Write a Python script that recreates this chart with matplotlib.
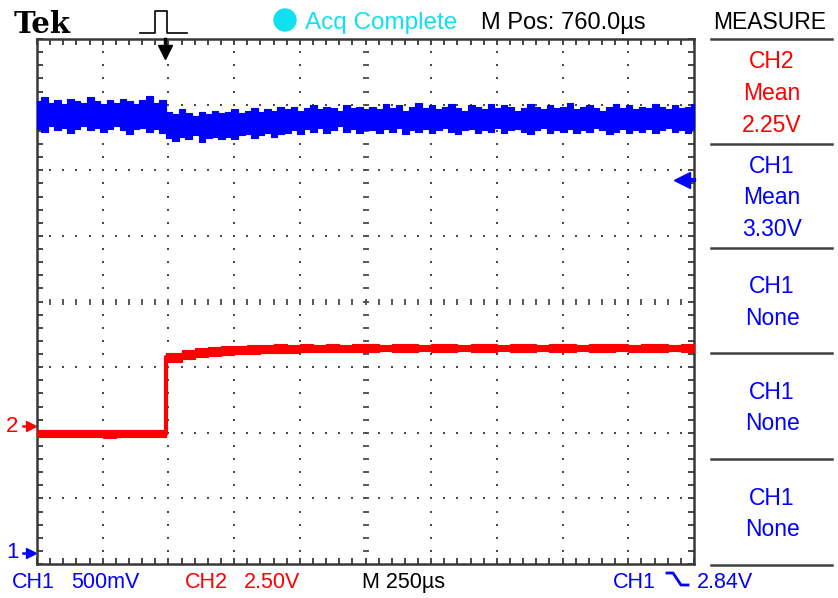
import numpy as np
import matplotlib
matplotlib.use("Agg")
import matplotlib.pyplot as plt
from matplotlib.lines import Line2D
from matplotlib.patches import Ellipse

# ---- scope settings ----
ch1_vdiv = 0.5      # V/div
ch2_vdiv = 2.5
ch1_pos = -3.83     # ground marker position (div)
ch2_pos = -1.90
t_div = 250.0       # us/div
trig_t = 487.0      # us from left edge
trig_level = 2.84   # V on CH1

# ---- CH1 : envelope (top / bottom) every 25 us ----
t1_us = np.arange(-10, 2540, 25)
ch1_top = [3.44, 3.47, 3.43, 3.45, 3.42, 3.46, 3.44, 3.43, 3.47, 3.44,
           3.42, 3.45, 3.43, 3.46, 3.44, 3.42, 3.45, 3.48, 3.43, 3.45,
           # after trigger
           3.36, 3.34, 3.38, 3.35, 3.33, 3.36, 3.34, 3.37, 3.35,
           3.36, 3.38, 3.35, 3.37, 3.39, 3.36, 3.38, 3.37, 3.40,
           3.38, 3.40, 3.37, 3.39, 3.41, 3.38, 3.40, 3.39, 3.37, 3.41, 3.39, 3.40, 3.38,
           3.40, 3.38, 3.42, 3.39, 3.41, 3.37, 3.40, 3.43, 3.39, 3.41,
           3.38, 3.40, 3.42, 3.39, 3.37, 3.41, 3.40, 3.38, 3.42, 3.39,
           3.41, 3.40, 3.37, 3.39, 3.42, 3.40, 3.38, 3.41, 3.39, 3.40,
           3.43, 3.38, 3.40, 3.41, 3.39, 3.37, 3.40, 3.42, 3.39, 3.41,
           3.38, 3.40, 3.39, 3.42, 3.40, 3.38, 3.41, 3.39, 3.40, 3.42, 3.39]
ch1_bot = [3.23, 3.21, 3.25, 3.22, 3.24, 3.20, 3.23, 3.25, 3.22, 3.24,
           3.21, 3.23, 3.25, 3.22, 3.19, 3.23, 3.24, 3.21, 3.23, 3.20,
           # after trigger
           3.16, 3.14, 3.17, 3.15, 3.18, 3.13, 3.16, 3.17, 3.15,
           3.17, 3.15, 3.18, 3.19, 3.16, 3.18, 3.20, 3.17, 3.19,
           3.20, 3.22, 3.19, 3.23, 3.21, 3.24, 3.20, 3.22, 3.25, 3.21, 3.23, 3.20, 3.22,
           3.22, 3.20, 3.23, 3.21, 3.24, 3.19, 3.22, 3.21, 3.23, 3.20,
           3.22, 3.24, 3.21, 3.19, 3.22, 3.23, 3.20, 3.22, 3.21, 3.24,
           3.20, 3.22, 3.23, 3.21, 3.19, 3.22, 3.24, 3.20, 3.22, 3.21,
           3.23, 3.20, 3.22, 3.21, 3.24, 3.22, 3.19, 3.21, 3.23, 3.20,
           3.22, 3.21, 3.23, 3.20, 3.22, 3.24, 3.21, 3.22, 3.20, 3.23, 3.21]

# ---- CH2 : envelope every 50 us ----
t2_us = np.r_[np.arange(0, 500, 50), 490, np.arange(550, 2550, 50)]
ch2_top = [-0.15, -0.14, -0.16, -0.13, -0.15, -0.14, -0.16, -0.13, -0.15, -0.14,
           2.80,
           2.90, 2.98, 3.02, 3.05, 3.04, 3.08,
           3.10, 3.12, 3.10, 3.13, 3.11,
           3.12, 3.11, 3.13, 3.12, 3.10,
           3.12, 3.13, 3.11, 3.12, 3.12,
           3.11, 3.13, 3.12, 3.11, 3.12,
           3.13, 3.11, 3.12, 3.12, 3.11,
           3.12, 3.13, 3.12, 3.11, 3.12,
           3.12, 3.11, 3.12, 3.12]
ch2_bot = [-0.42, -0.40, -0.43, -0.41, -0.42, -0.44, -0.41, -0.42, -0.40, -0.42,
           2.45,
           2.55, 2.62, 2.68, 2.72, 2.74, 2.76,
           2.78, 2.80, 2.79, 2.82, 2.81,
           2.83, 2.84, 2.82, 2.84, 2.85,
           2.84, 2.83, 2.85, 2.84, 2.84,
           2.85, 2.84, 2.83, 2.85, 2.84,
           2.84, 2.85, 2.84, 2.83, 2.85,
           2.84, 2.84, 2.85, 2.84, 2.83,
           2.84, 2.85, 2.84, 2.84]

# ---- screen texts ----
measure_items = [("CH2", "Mean", "2.25V", "#ff0000"),
                 ("CH1", "Mean", "3.30V", "#0000ff"),
                 ("CH1", "None", None, "#0000ff"),
                 ("CH1", "None", None, "#0000ff"),
                 ("CH1", "None", None, "#0000ff")]
ch1_scale_txt = "500mV"
ch2_scale_txt = "2.50V"
time_scale_txt = "M 250\u00b5s"
mpos_txt = "M Pos: 760.0\u00b5s"
trig_txt = "2.84V"

FONT = ['Liberation Sans', 'DejaVu Sans']
BLUE = "#0000ff"
RED = "#ff0000"
CYAN = "#10e0f0"
GRAT = "#4a4a4a"

W, H = 838, 598
def fx(x): return x / W
def fy(y): return 1 - y / H

fig = plt.figure(figsize=(W / 100, H / 100), dpi=100)
fig.patch.set_facecolor("white")
ax = fig.add_axes([fx(37), fy(564), 657 / W, 525 / H])
ax.set_xlim(0, 10)
ax.set_ylim(-4, 4)

# graticule
fine = np.arange(0.2, 10, 0.2)
fine_y = np.arange(-3.8, 4, 0.2)
for gx in range(1, 10):
    if gx == 5:
        continue
    ax.plot(np.full_like(fine_y, gx), fine_y, ls="none", marker="s", ms=1.6,
            color=GRAT, mew=0, zorder=1)
for gy in range(-3, 4):
    if gy == 0:
        continue
    ax.plot(fine, np.full_like(fine, gy), ls="none", marker="s", ms=1.6,
            color=GRAT, mew=0, zorder=1)
ax.plot(np.full_like(fine_y, 5), fine_y, ls="none", marker="_", ms=4,
        mew=1.3, color=GRAT, zorder=1)
ax.plot(fine, np.zeros_like(fine), ls="none", marker="|", ms=4,
        mew=1.3, color=GRAT, zorder=1)

for s in ax.spines.values():
    s.set_color("#383838")
    s.set_linewidth(1.8)
ax.set_xticks(np.arange(0, 10.01, 0.2))
ax.set_yticks(np.arange(-4, 4.01, 0.2))
ax.tick_params(direction="in", length=4, width=1.3, color="#383838",
               top=True, right=True, labelleft=False, labelbottom=False)

# traces
x1 = t1_us / t_div
b_top = np.array(ch1_top) / ch1_vdiv + ch1_pos
b_bot = np.array(ch1_bot) / ch1_vdiv + ch1_pos
ax.fill_between(x1, b_bot, b_top, step="post", color=BLUE, lw=0.8, zorder=3)

x2 = t2_us / t_div
r_top = np.array(ch2_top) / ch2_vdiv + ch2_pos
r_bot = np.array(ch2_bot) / ch2_vdiv + ch2_pos
ax.fill_between(x2, r_bot, r_top, step="post", color=RED, lw=0.8, zorder=4)
ax.plot(x2, (r_top + r_bot) / 2, drawstyle="steps-post", color=RED, lw=3, zorder=4)

# trigger position (top) and trigger level (right)
tx = trig_t / t_div
ax.plot([tx, tx], [4, 3.85], color="black", lw=2.5, zorder=5, clip_on=False)
ax.plot(tx, 3.80, marker="v", ms=10, color="black", zorder=5, clip_on=False)
ty = trig_level / ch1_vdiv + ch1_pos
ax.plot([9.85, 10], [ty, ty], color=BLUE, lw=3, zorder=5, clip_on=False)
ax.plot(9.82, ty, marker="<", ms=11, color=BLUE, zorder=5, clip_on=False)

# ground markers
for lab, pos, col in (("1", ch1_pos, BLUE), ("2", ch2_pos, RED)):
    ax.text(-0.38, pos, lab, color=col, fontsize=16, family=FONT,
            ha="center", va="center", clip_on=False)
    ax.plot(-0.09, pos, marker=">", ms=7, color=col, clip_on=False)
    ax.plot([-0.22, -0.09], [pos, pos], color=col, lw=1.8, clip_on=False)

# header
fig.text(fx(14), fy(33), "Tek", family=["DejaVu Serif"], weight="bold",
         fontsize=21, va="baseline")
pulse = Line2D([fx(v) for v in (140, 155, 155, 167, 167, 187)],
               [fy(v) for v in (33, 33, 11, 11, 33, 33)],
               color="black", lw=1.2, transform=fig.transFigure)
fig.add_artist(pulse)
fig.add_artist(Ellipse((fx(285), fy(20)), 22 / W, 22 / H, color=CYAN,
                       transform=fig.transFigure))
fig.text(fx(305), fy(29), "Acq Complete", color=CYAN, family=FONT,
         fontsize=17.5, va="baseline")
fig.text(fx(481), fy(29), mpos_txt, color="black", family=FONT,
         fontsize=17, va="baseline")
fig.text(fx(770), fy(29), "MEASURE", color="black", family=FONT,
         fontsize=16.5, va="baseline", ha="center")

# measure panel
sep = [39, 144, 248, 353, 459, 565]
for yv in sep:
    fig.add_artist(Line2D([fx(711), fx(832)], [fy(yv), fy(yv)], color="#404040",
                          lw=1.8, transform=fig.transFigure))
for i, (ch, kind, val, col) in enumerate(measure_items):
    top, bot = sep[i], sep[i + 1]
    lines = [ch, kind] + ([val] if val else [])
    mid = (top + bot) / 2 + 2
    for j, s in enumerate(lines):
        yc = mid + (j - (len(lines) - 1) / 2) * 31.5
        fig.text(fx(772), fy(yc), s, color=col, family=FONT, fontsize=16.5,
                 ha="center", va="center")

# bottom line
FS = 15.5
fig.text(fx(12), fy(588), "CH1", color=BLUE, family=FONT, fontsize=FS, va="baseline")
fig.text(fx(71), fy(588), ch1_scale_txt, color=BLUE, family=FONT, fontsize=FS, va="baseline")
fig.text(fx(185), fy(588), "CH2", color=RED, family=FONT, fontsize=FS, va="baseline")
fig.text(fx(244), fy(588), ch2_scale_txt, color=RED, family=FONT, fontsize=FS, va="baseline")
fig.text(fx(362), fy(588), time_scale_txt, color="black", family=FONT, fontsize=FS, va="baseline")
fig.text(fx(613), fy(588), "CH1", color=BLUE, family=FONT, fontsize=FS, va="baseline")
fig.add_artist(Line2D([fx(v) for v in (667, 673, 681, 688)],
                      [fy(v) for v in (573, 573, 585, 585)],
                      color=BLUE, lw=2, transform=fig.transFigure))
fig.text(fx(697), fy(588), trig_txt, color=BLUE, family=FONT, fontsize=FS, va="baseline")

fig.savefig("out.png", dpi=100)
